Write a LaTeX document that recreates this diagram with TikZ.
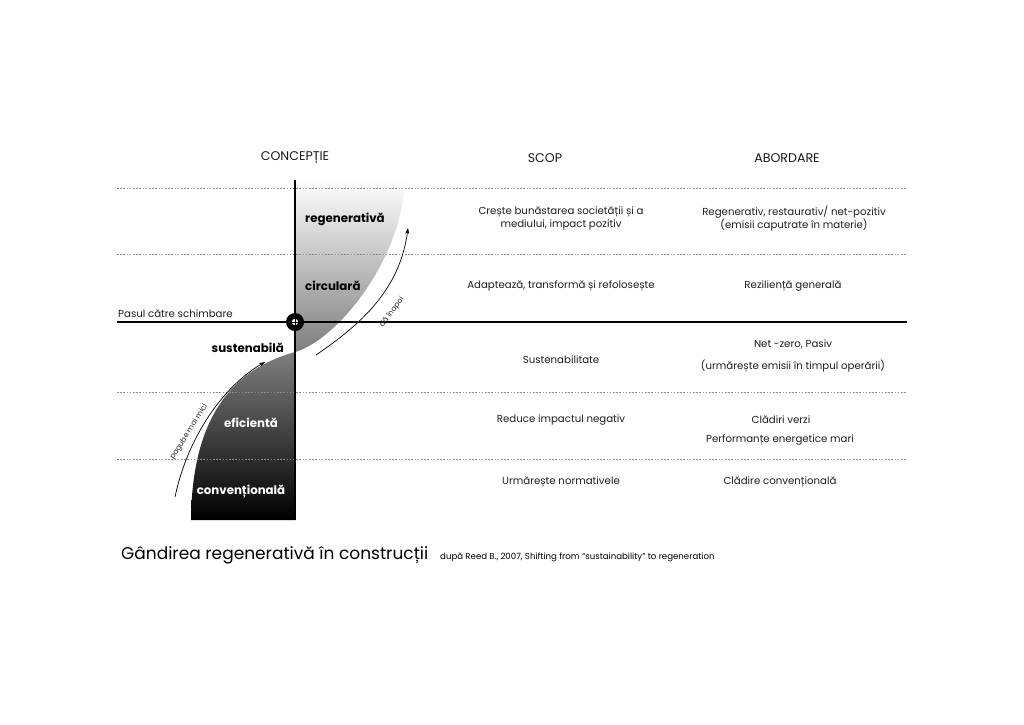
\documentclass[tikz,border=0pt]{standalone}
\usepackage{fontspec}
\setmainfont{Poppins}
\usetikzlibrary{arrows.meta}
\begin{document}
\begin{tikzpicture}[x=1pt,y=-1pt,
  body/.style={font=\fontsize{10.2}{13}\selectfont, text=black!88, align=center, inner sep=0pt},
  head/.style={font=\fontsize{12.6}{15}\selectfont, text=black!90, inner sep=0pt},
  lvl/.style={font=\fontsize{11.8}{14}\selectfont\bfseries, inner sep=0pt},
  dashline/.style={black!45, line width=0.6pt, dash pattern=on 1.6pt off 1.6pt},
  flowarrow/.style={line width=0.7pt, -{Stealth[length=6pt,width=4pt]}},
  arrlabel/.style={font=\fontsize{7.4}{9}\selectfont, inner sep=0pt, text=black!85}]
\useasboundingbox (0,0) rectangle (1024,724);
\fill[white] (0,0) rectangle (1024,724);

% coordinates
\coordinate (axT) at (295,180);
\coordinate (axB) at (295,520);
\coordinate (hL) at (117,322);
\coordinate (hR) at (907,322);
\coordinate (O) at (295,322);
\coordinate (X) at (295,352);

% shaded S-shape
\shade[top color=white, bottom color=black]
  (295,520) -- (191,520) .. controls (192,420) and (230,370) .. (X) -- cycle
  (X) .. controls (335,341) and (402,262) .. (405,180) -- (295,180) -- cycle;

% dashed row lines
\foreach \yy/\nm in {188/d1,254/d2,392/d3,459/d4}{
  \coordinate (\nm L) at (117,\yy);
  \coordinate (\nm R) at (907,\yy);
  \draw[dashline] (\nm L) -- (\nm R);
}

% axes
\draw[line width=1.2pt] (hL) -- (hR);
\draw[line width=1.5pt] (axT) -- (axB);

% centre marker
\fill[black] (O) circle[radius=9];
\fill[white] (O) circle[radius=3.2];
\draw[line width=1pt] (295,318) -- (295,326);
\draw[line width=1pt] (291,322) -- (299,322);

% arrows
\coordinate (a1s) at (175,497);
\coordinate (a1e) at (265,362);
\draw[flowarrow] (a1s) .. controls (188,435) and (225,385) .. (a1e);
\coordinate (a2s) at (316,355);
\coordinate (a2e) at (408,228);
\draw[flowarrow] (a2s) .. controls (360,325) and (400,290) .. (a2e);
\node[arrlabel, rotate=58] (lbl1) at (189,432) {pagube mai mici};
\node[arrlabel, rotate=53] (lbl2) at (392,312) {dă înapoi};

% headings
\node[head] (hC) at (295,158) {CONCEPȚIE};
\node[head] (hS) at (545,158) {SCOP};
\node[head] (hA) at (787,158) {ABORDARE};

% level labels
\node[lvl, anchor=west] (l1) at (305,219) {regenerativă};
\node[lvl, anchor=west] (l2) at (305,286) {circulară};
\node[lvl, anchor=east] (l3) at (284,348) {sustenabilă};
\node[lvl, text=white] (l4) at (251,423) {eficientă};
\node[lvl, text=white] (l5) at (241,492) {convențională};

\node[body, anchor=west] (pas) at (118,314) {Pasul către schimbare};

% SCOP column
\node[body] (s1) at (561,218.5) {Crește bunăstarea societății și a\\mediului, impact pozitiv};
\node[body] (s2) at (561,286) {Adaptează, transformă și refolosește};
\node[body] (s3) at (561,360) {Sustenabilitate};
\node[body] (s4) at (561,420) {Reduce impactul negativ};
\node[body] (s5) at (561,482) {Urmărește normativele};

% ABORDARE column
\node[body] (b1) at (794,218.5) {Regenerativ, restaurativ/ net-pozitiv\\(emisii caputrate în materie)};
\node[body] (b2) at (793,286) {Reziliență generală};
\node[body] (b3a) at (793,344) {Net -zero, Pasiv};
\node[body] (b3b) at (793,366) {(urmărește emisii în timpul operării)};
\node[body] (b4a) at (781,420) {Clădiri verzi};
\node[body] (b4b) at (780,440) {Performanțe energetice mari};
\node[body] (b5) at (780,482) {Clădire convențională};

% title
\node[anchor=base west, inner sep=0pt, font=\fontsize{17}{20}\selectfont] (title) at (121,559) {Gândirea regenerativă în construcții};
\node[anchor=base west, inner sep=0pt, font=\fontsize{8.6}{10}\selectfont] (src) at (440,559) {după Reed B., 2007, Shifting from “sustainability” to regeneration};
\end{tikzpicture}
\end{document}
